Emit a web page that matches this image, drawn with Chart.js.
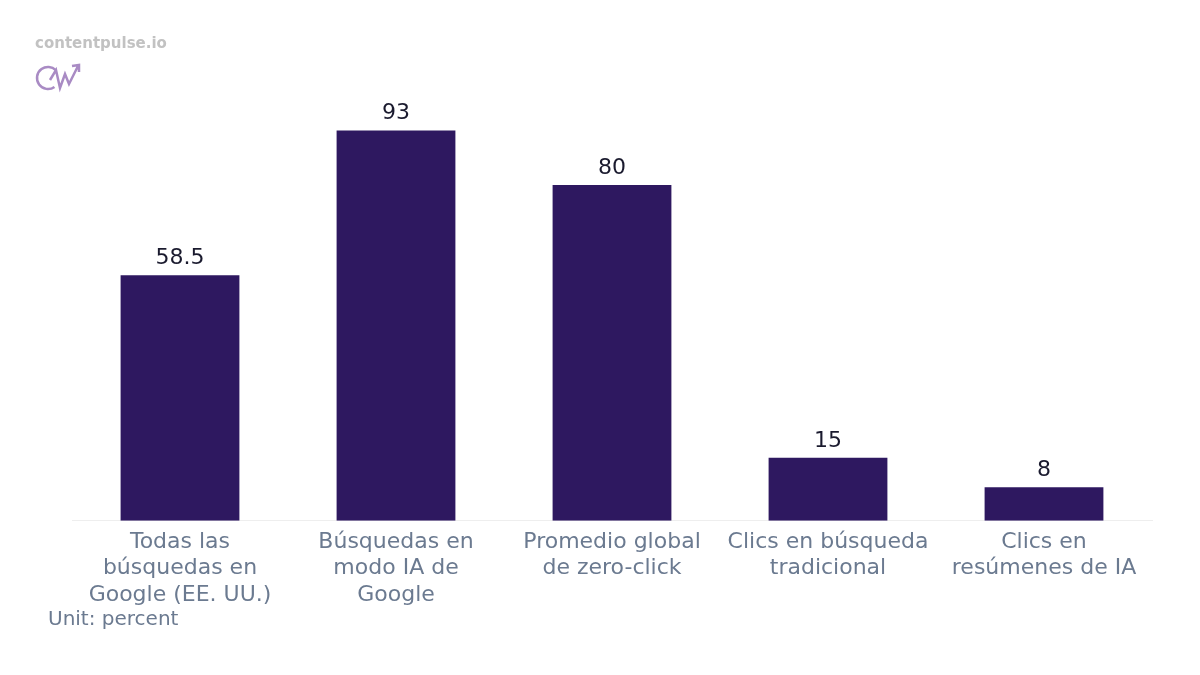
<!DOCTYPE html>
<html>
<head>
<meta charset="utf-8">
<script src="https://cdn.jsdelivr.net/npm/chart.js@4"></script>
<style>
  body { margin: 0; background: #fff; }
  #wrap { width: 1200px; height: 675px; }
</style>
</head>
<body>
<div id="wrap"><canvas id="myChart"></canvas></div>
<script>
const categories = [
  ['Todas las', 'búsquedas en', 'Google (EE. UU.)'],
  ['Búsquedas en', 'modo IA de', 'Google'],
  ['Promedio global', 'de zero-click'],
  ['Clics en búsqueda', 'tradicional'],
  ['Clics en', 'resúmenes de IA']
];
const values = [58.5, 93, 80, 15, 8];

// value labels + branding
const extras = {
  id: 'extras',
  afterDatasetsDraw(chart) {
    const c = chart.ctx;
    const meta = chart.getDatasetMeta(0);
    c.save();
    c.font = '22px "DejaVu Sans"';
    c.fillStyle = '#1a1a2e';
    c.textAlign = 'center';
    c.textBaseline = 'bottom';
    meta.data.forEach((bar, i) => {
      c.fillText(String(values[i]), bar.x, bar.y - 6);
    });

    c.textAlign = 'left';
    c.textBaseline = 'middle';
    c.font = 'bold 15px "DejaVu Sans"';
    c.fillStyle = '#c2c2c2';
    c.fillText('contentpulse.io', 35, 44);

    c.font = '20px "DejaVu Sans"';
    c.fillStyle = '#6b7a90';
    c.fillText('Unit: percent', 48, 620);

    // rough logo
    c.strokeStyle = '#a98bc4';
    c.lineWidth = 2.5;
    c.beginPath();
    c.arc(48, 78, 11, 0.3 * Math.PI, 1.75 * Math.PI);
    c.stroke();
    c.beginPath();
    c.moveTo(50, 80); c.lineTo(56, 70); c.lineTo(60, 88); c.lineTo(65, 74);
    c.lineTo(69, 84); c.lineTo(78, 66);
    c.moveTo(72, 66); c.lineTo(79, 65); c.lineTo(79, 72);
    c.stroke();
    c.restore();
  }
};

new Chart(document.getElementById('myChart'), {
  type: 'bar',
  data: {
    labels: categories,
    datasets: [{
      data: values,
      backgroundColor: '#2e1860',
      barPercentage: 0.55,
      categoryPercentage: 1
    }]
  },
  options: {
    responsive: true,
    maintainAspectRatio: false,
    animation: false,
    layout: { padding: { left: 72, right: 48, top: 101, bottom: 67 } },
    plugins: { legend: { display: false }, tooltip: { enabled: false } },
    scales: {
      x: {
        grid: { display: false },
        border: { color: '#eeeeee' },
        ticks: {
          color: '#6b7a90',
          font: { family: 'DejaVu Sans', size: 22, lineHeight: 1.2 },
          maxRotation: 0,
          padding: 0
        }
      },
      y: { display: false, min: 0, max: 100 }
    }
  },
  plugins: [extras]
});
</script>
</body>
</html>
